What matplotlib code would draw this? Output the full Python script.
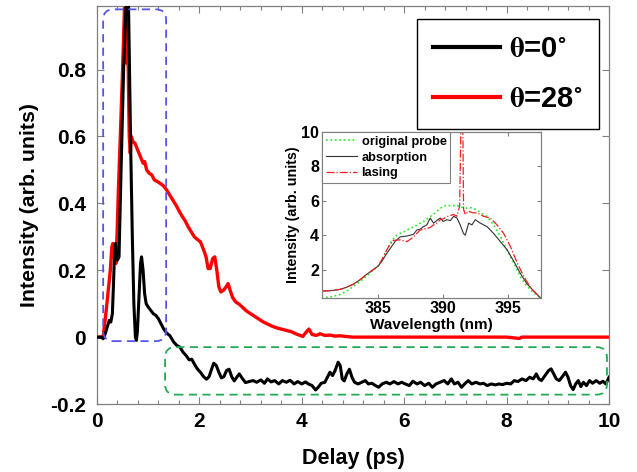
import matplotlib
matplotlib.use("Agg")
import matplotlib.pyplot as plt
from matplotlib.patches import FancyBboxPatch
from matplotlib.lines import Line2D

plt.rcParams['font.family'] = ['Liberation Sans', 'DejaVu Sans']
plt.rcParams['font.weight'] = 'bold'
plt.rcParams['mathtext.fontset'] = 'stix'

# ---------------- main data ----------------
delay_0 = [0.00, 0.08, 0.12, 0.16, 0.20, 0.24, 0.27, 0.30, 0.32, 0.34, 0.36, 0.38, 0.40, 0.43,
           0.47, 0.52, 0.55, 0.58, 0.61, 0.63, 0.66, 0.69, 0.72, 0.75, 0.77, 0.79, 0.82, 0.85,
           0.87, 0.90, 0.93, 0.96, 1.00, 1.05, 1.10, 1.15, 1.20, 1.25, 1.30, 1.36, 1.42, 1.50,
           1.56, 1.62, 1.68, 1.74, 1.80, 1.85, 1.90, 1.96, 2.02, 2.08, 2.14, 2.19, 2.24, 2.28,
           2.33, 2.38, 2.43, 2.48, 2.53, 2.58, 2.63, 2.68, 2.73, 2.78, 2.84, 2.90, 2.97, 3.05,
           3.12, 3.20, 3.27, 3.33, 3.40, 3.47, 3.55, 3.62, 3.70, 3.77, 3.85, 3.92, 4.00, 4.07,
           4.13, 4.20, 4.27, 4.32, 4.38, 4.45, 4.50, 4.55, 4.60, 4.65, 4.71, 4.75, 4.79, 4.83,
           4.88, 4.93, 4.98, 5.03, 5.10, 5.17, 5.24, 5.30, 5.37, 5.44, 5.50, 5.57, 5.65, 5.72,
           5.80, 5.88, 5.95, 6.02, 6.10, 6.17, 6.25, 6.32, 6.40, 6.48, 6.55, 6.62, 6.70, 6.78,
           6.85, 6.92, 6.98, 7.05, 7.12, 7.18, 7.25, 7.32, 7.40, 7.48, 7.55, 7.62, 7.70, 7.78,
           7.85, 7.92, 8.00, 8.08, 8.15, 8.22, 8.30, 8.38, 8.45, 8.52, 8.58, 8.63, 8.68, 8.75,
           8.82, 8.87, 8.92, 8.97, 9.03, 9.08, 9.15, 9.20, 9.25, 9.30, 9.35, 9.40, 9.45, 9.50,
           9.56, 9.62, 9.68, 9.75, 9.82, 9.88, 9.94, 10.00]
intensity_0 = [0.000, 0.000, -0.005, 0.010, 0.030, 0.050, 0.045, 0.070, 0.150, 0.240, 0.280, 0.250,
               0.230, 0.240, 0.500, 0.800, 0.920, 1.050, 1.050, 0.850, 0.550, 0.300, 0.100, 0.000,
               -0.010, 0.020, 0.120, 0.220, 0.240, 0.200, 0.130, 0.100, 0.090, 0.080, 0.070, 0.065,
               0.055, 0.040, 0.025, 0.012, 0.005, -0.015, -0.025, -0.030, -0.045, -0.055, -0.068,
               -0.066, -0.080, -0.095, -0.105, -0.118, -0.126, -0.118, -0.095, -0.078, -0.085,
               -0.105, -0.122, -0.118, -0.100, -0.096, -0.118, -0.131, -0.120, -0.110, -0.124,
               -0.136, -0.133, -0.130, -0.135, -0.128, -0.138, -0.125, -0.134, -0.130, -0.140,
               -0.130, -0.135, -0.129, -0.140, -0.133, -0.140, -0.134, -0.140, -0.145, -0.158,
               -0.150, -0.138, -0.135, -0.120, -0.105, -0.115, -0.100, -0.075, -0.085, -0.125,
               -0.131, -0.110, -0.096, -0.120, -0.135, -0.140, -0.135, -0.130, -0.140, -0.138,
               -0.145, -0.150, -0.140, -0.135, -0.140, -0.133, -0.140, -0.135, -0.140, -0.145,
               -0.132, -0.140, -0.135, -0.145, -0.138, -0.150, -0.140, -0.135, -0.130, -0.140,
               -0.125, -0.140, -0.135, -0.150, -0.140, -0.130, -0.140, -0.135, -0.140, -0.138,
               -0.145, -0.140, -0.143, -0.140, -0.142, -0.138, -0.140, -0.130, -0.133, -0.125,
               -0.130, -0.120, -0.125, -0.110, -0.125, -0.130, -0.115, -0.100, -0.095, -0.110,
               -0.125, -0.130, -0.120, -0.105, -0.120, -0.145, -0.157, -0.140, -0.130, -0.148,
               -0.135, -0.145, -0.130, -0.138, -0.130, -0.138, -0.132, -0.140, -0.120]

delay_28 = [0.00, 0.08, 0.12, 0.15, 0.18, 0.22, 0.26, 0.29, 0.31, 0.34, 0.37, 0.39, 0.42, 0.46,
            0.50, 0.53, 0.55, 0.57, 0.59, 0.61, 0.63, 0.65, 0.67, 0.70, 0.74, 0.78, 0.82, 0.86,
            0.90, 0.93, 0.97, 1.02, 1.07, 1.12, 1.18, 1.25, 1.30, 1.36, 1.42, 1.48, 1.52, 1.56,
            1.60, 1.66, 1.72, 1.78, 1.84, 1.90, 1.96, 2.02, 2.08, 2.13, 2.17, 2.21, 2.26, 2.30,
            2.34, 2.38, 2.42, 2.47, 2.52, 2.56, 2.60, 2.65, 2.71, 2.78, 2.85, 2.92, 3.00, 3.08,
            3.16, 3.24, 3.32, 3.40, 3.50, 3.60, 3.70, 3.80, 3.88, 3.95, 4.02, 4.08, 4.14, 4.20,
            4.28, 4.36, 4.45, 4.55, 4.65, 4.75, 4.85, 5.00, 5.50, 6.00, 6.50, 7.00, 7.50, 8.00,
            8.25, 8.30, 8.50, 9.00, 9.50, 10.00]
intensity_28 = [0.000, 0.000, 0.000, 0.040, 0.080, 0.140, 0.200, 0.270, 0.280, 0.240, 0.220, 0.300,
                0.450, 0.620, 0.800, 0.950, 1.050, 0.820, 1.000, 0.800, 0.600, 0.550, 0.600, 0.585,
                0.580, 0.565, 0.550, 0.535, 0.520, 0.525, 0.500, 0.490, 0.485, 0.470, 0.465, 0.458,
                0.452, 0.440, 0.425, 0.410, 0.400, 0.390, 0.378, 0.362, 0.348, 0.330, 0.315, 0.300,
                0.292, 0.285, 0.262, 0.240, 0.205, 0.205, 0.235, 0.240, 0.200, 0.150, 0.135, 0.140,
                0.150, 0.160, 0.140, 0.118, 0.105, 0.098, 0.088, 0.078, 0.070, 0.062, 0.054, 0.046,
                0.040, 0.034, 0.028, 0.024, 0.020, 0.016, 0.010, 0.006, 0.002, 0.014, 0.024, 0.008,
                0.005, 0.010, 0.005, 0.006, 0.003, 0.004, 0.002, 0.000, 0.000, 0.000, 0.000, 0.000,
                0.000, 0.000, -0.004, 0.000, 0.000, 0.000, 0.000, 0.000]

x_ticks = [0, 2, 4, 6, 8, 10]
y_ticks = [-0.2, 0, 0.2, 0.4, 0.6, 0.8]
y_tick_labels = ['-0.2', '0', '0.2', '0.4', '0.6', '0.8']
legend_labels = [r'$\mathrm{\theta}$=0$^{\circ}$', r'$\mathrm{\theta}$=28$^{\circ}$']

# ---------------- inset data ----------------
wl_probe = [380.67, 381.4, 382.08, 382.6, 383.1, 383.6, 384.1, 384.6, 385.0, 385.35, 385.67,
            386.0, 386.3, 386.69, 387.0, 387.46, 387.8, 388.23, 388.6, 389.0, 389.4, 389.77,
            390.28, 390.6, 391.0, 391.3, 391.7, 392.1, 392.5, 392.9, 393.36, 393.87, 394.38,
            394.9, 395.4, 395.9, 396.4, 396.95, 397.46]
int_probe = [0.36, 0.42, 0.55, 0.75, 1.02, 1.30, 1.60, 1.95, 2.20, 2.65, 3.15, 3.60, 3.93, 4.10,
             4.20, 4.41, 4.50, 4.70, 4.85, 5.08, 5.30, 5.57, 5.75, 5.70, 5.75, 5.65, 5.57, 5.60,
             5.50, 5.30, 5.08, 4.60, 3.93, 3.15, 2.40, 1.60, 1.05, 0.65, 0.36]

wl_abs = [380.67, 381.4, 382.08, 382.6, 383.1, 383.6, 384.1, 384.6, 385.0, 385.35, 385.67,
          386.0, 386.3, 386.69, 386.95, 387.2, 387.46, 387.72, 387.97, 388.23, 388.49, 388.74,
          389.0, 389.26, 389.5, 389.77, 390.0, 390.28, 390.55, 390.8, 391.05, 391.3, 391.45,
          391.56, 391.69, 391.95, 392.2, 392.46, 392.85, 393.36, 393.87, 394.38, 394.9, 395.4,
          395.9, 396.4, 396.95, 397.46]
int_abs = [0.75, 0.78, 0.85, 0.98, 1.15, 1.40, 1.71, 1.98, 2.20, 2.55, 2.95, 3.30, 3.63, 3.90,
           3.93, 3.95, 4.00, 4.05, 4.30, 4.35, 4.50, 4.60, 5.00, 4.70, 4.85, 5.00, 4.80, 4.90,
           4.85, 5.10, 5.00, 4.60, 4.30, 4.10, 4.00, 4.70, 4.60, 4.90, 4.70, 4.50, 4.10, 3.63,
           3.15, 2.50, 1.80, 1.20, 0.75, 0.36]

wl_lase = [380.67, 381.4, 382.08, 382.6, 383.1, 383.6, 384.1, 384.6, 385.0, 385.35, 385.67,
           385.9, 386.18, 386.69, 387.2, 387.46, 387.72, 387.97, 388.23, 388.49, 388.74, 389.0,
           389.26, 389.5, 389.77, 390.0, 390.28, 390.55, 390.8, 391.05, 391.26, 391.36, 391.42,
           391.5, 391.56, 391.69, 391.95, 392.08, 392.3, 392.59, 392.85, 393.1, 393.6, 394.13,
           394.64, 395.15, 395.67, 396.18, 396.7, 397.2, 397.46]
int_lase = [0.75, 0.78, 0.85, 0.98, 1.15, 1.40, 1.71, 1.98, 2.20, 2.65, 3.15, 3.45, 3.70, 3.73,
            3.63, 3.75, 3.90, 4.10, 4.30, 4.35, 4.40, 4.45, 4.60, 4.70, 4.90, 4.95, 5.08, 5.15,
            5.20, 5.10, 5.70, 10.5, 10.5, 10.5, 5.50, 5.20, 5.40, 5.35, 5.30, 5.30, 5.20, 5.10,
            5.00, 4.60, 4.10, 3.35, 2.40, 1.60, 0.95, 0.55, 0.36]

inset_labels = ['original probe', 'absorption', 'lasing']
inset_xticks = [385, 390, 395]
inset_yticks = [2, 4, 6, 8, 10]

# highlight boxes (data coords): x0, y0, x1, y1
blue_box = (0.12, -0.012, 1.35, 0.98)
green_box = (1.33, -0.172, 9.96, -0.03)

SPINE = '#808080'

fig = plt.figure(figsize=(6.37, 4.72), dpi=100)
ax = fig.add_axes([97 / 637, 1 - 404 / 472, 512 / 637, 398 / 472])

ax.plot(delay_0, intensity_0, color='black', lw=2.2, zorder=3)
ax.plot(delay_28, intensity_28, color='#ff0000', lw=2.4, zorder=2)

ax.set_xlim(0, 10)
ax.set_ylim(-0.2, 0.99)
ax.set_xticks(x_ticks)
ax.set_xticks([i * 0.4 for i in range(26)], minor=True)
ax.set_yticks(y_ticks)
ax.set_yticklabels(y_tick_labels)
ax.tick_params(which='both', direction='in', top=True, right=True, colors=SPINE,
               labelcolor='black', labelsize=15)
ax.tick_params(which='major', length=5, width=0.8)
ax.tick_params(which='minor', length=3, width=0.8)
for sp in ax.spines.values():
    sp.set_color(SPINE)
    sp.set_linewidth(0.9)
for t in ax.get_xticklabels() + ax.get_yticklabels():
    t.set_fontweight('bold')
ax.tick_params(axis='x', pad=6)
ax.tick_params(axis='y', pad=8)
ax.set_xlabel('Delay (ps)', fontsize=15.5, fontweight='bold', labelpad=12)
ax.set_ylabel('Intensity (arb. units)', fontsize=15.3, fontweight='bold', labelpad=8)

# aspect for rounded boxes
x_px_per_unit = 512 / 10.0
y_px_per_unit = 398 / 1.19
asp = x_px_per_unit / y_px_per_unit
for (x0, y0, x1, y1), col in [(blue_box, '#5555ee'), (green_box, '#22aa55')]:
    p = FancyBboxPatch((x0, y0), x1 - x0, y1 - y0,
                       boxstyle='round,pad=0,rounding_size=0.2',
                       mutation_aspect=asp, fill=False, ec=col, lw=1.3,
                       ls=(0, (4.5, 3)), zorder=4)
    ax.add_patch(p)

handles = [Line2D([], [], color='black', lw=3), Line2D([], [], color='#ff0000', lw=3)]
leg = ax.legend(handles, legend_labels, loc='upper right', bbox_to_anchor=(0.98, 0.967),
                prop={'family': 'Liberation Sans', 'weight': 'bold', 'size': 21},
                frameon=True, fancybox=False, edgecolor='black', framealpha=1,
                handlelength=2.3, handletextpad=0.3, borderpad=0.55, labelspacing=0.75,
                borderaxespad=0)
leg.get_frame().set_linewidth(1.0)

# ---------------- inset ----------------
ins = fig.add_axes([322 / 637, 1 - 298 / 472, 219 / 637, 166 / 472])
ins.plot(wl_probe, int_probe, color='#22ee22', ls=':', lw=1.2, label=inset_labels[0])
ins.plot(wl_abs, int_abs, color='#333333', ls='-', lw=0.8, label=inset_labels[1])
ins.plot(wl_lase, int_lase, color='#ee2222', ls='-.', lw=0.9, label=inset_labels[2])
ins.set_xlim(380.7, 397.5)
ins.set_ylim(0.35, 10)
ins.set_xticks(inset_xticks)
ins.set_yticks(inset_yticks)
ins.tick_params(which='both', direction='in', top=True, right=True, colors=SPINE,
                labelcolor='black', labelsize=11.5, length=3, pad=2)
for sp in ins.spines.values():
    sp.set_color(SPINE)
    sp.set_linewidth(0.9)
for t in ins.get_xticklabels() + ins.get_yticklabels():
    t.set_fontweight('bold')
ins.set_xlabel('Wavelength (nm)', fontsize=11, fontweight='bold', labelpad=1.5)
ins.set_ylabel('Intensity (arb. units)', fontsize=10.3, fontweight='bold', labelpad=1)
il = ins.legend(loc='upper left', borderaxespad=0, fancybox=False, edgecolor=SPINE,
                framealpha=1, prop={'family': 'Liberation Sans', 'weight': 'bold', 'size': 9.2},
                handlelength=2.4, handletextpad=0.4, borderpad=0.3, labelspacing=0.3)
il.get_frame().set_linewidth(0.8)

fig.savefig('out.png', dpi=100)
